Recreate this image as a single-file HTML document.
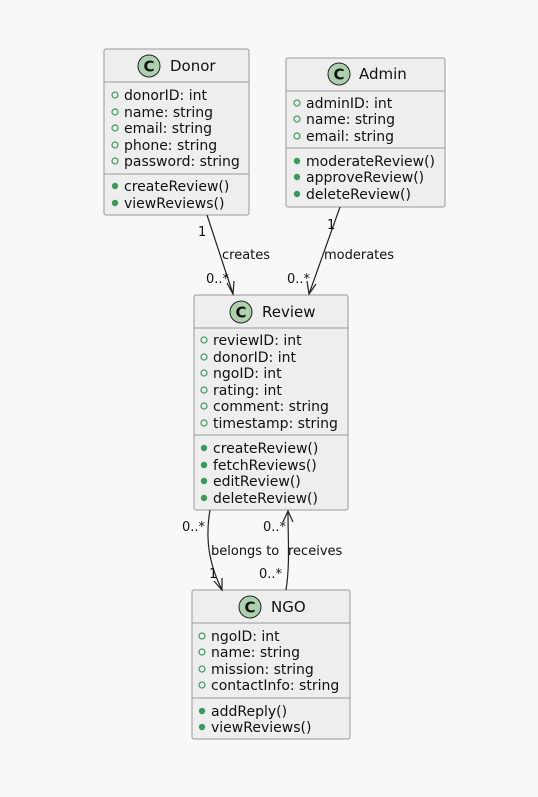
<!DOCTYPE html>
<html><head><meta charset="utf-8"><style>
html,body{margin:0;padding:0;background:#f8f8f8;}
svg{display:block}
text{font-family:"DejaVu Sans","Liberation Sans",sans-serif;fill:#111;}
.a{font-size:14px}
.t{font-size:15px}
.l{font-size:13px}
</style></head><body>
<svg width="538" height="797" viewBox="0 0 538 797" xmlns="http://www.w3.org/2000/svg">
<defs>
<g id="ico"><circle r="11" fill="#ADD1AE" stroke="#222" stroke-width="1"/><text x="0" y="5.5" text-anchor="middle" style="font-size:15px;font-weight:bold">C</text></g>
<g id="po"><circle r="3" fill="none" stroke="#3a9a5a" stroke-width="1.2"/></g>
<g id="pf"><circle r="3.2" fill="#3a9a5a"/></g>
</defs>

<!-- Donor -->
<rect x="104" y="49" width="145" height="166" rx="2" fill="#eeeeee" stroke="#999" stroke-width="1"/>
<line x1="104" y1="82" x2="249" y2="82" stroke="#999"/>
<line x1="104" y1="174" x2="249" y2="174" stroke="#999"/>
<use href="#ico" x="149" y="66"/>
<text class="t" x="170" y="71">Donor</text>
<use href="#po" x="115" y="95"/><text class="a" x="124" y="100">donorID: int</text>
<use href="#po" x="115" y="112"/><text class="a" x="124" y="117">name: string</text>
<use href="#po" x="115" y="128"/><text class="a" x="124" y="133">email: string</text>
<use href="#po" x="115" y="145"/><text class="a" x="124" y="150">phone: string</text>
<use href="#po" x="115" y="161"/><text class="a" x="124" y="166">password: string</text>
<use href="#pf" x="115" y="186"/><text class="a" x="124" y="191">createReview()</text>
<use href="#pf" x="115" y="203"/><text class="a" x="124" y="208">viewReviews()</text>

<!-- Admin -->
<rect x="286" y="58" width="159" height="149" rx="2" fill="#eeeeee" stroke="#999" stroke-width="1"/>
<line x1="286" y1="91" x2="445" y2="91" stroke="#999"/>
<line x1="286" y1="148" x2="445" y2="148" stroke="#999"/>
<use href="#ico" x="339" y="74"/>
<text class="t" x="359" y="79">Admin</text>
<use href="#po" x="297" y="103"/><text class="a" x="306" y="108">adminID: int</text>
<use href="#po" x="297" y="119"/><text class="a" x="306" y="124">name: string</text>
<use href="#po" x="297" y="136"/><text class="a" x="306" y="141">email: string</text>
<use href="#pf" x="297" y="161"/><text class="a" x="306" y="166">moderateReview()</text>
<use href="#pf" x="297" y="177"/><text class="a" x="306" y="182">approveReview()</text>
<use href="#pf" x="297" y="194"/><text class="a" x="306" y="199">deleteReview()</text>

<!-- Review -->
<rect x="194" y="295" width="154" height="215" rx="2" fill="#eeeeee" stroke="#999" stroke-width="1"/>
<line x1="194" y1="328" x2="348" y2="328" stroke="#999"/>
<line x1="194" y1="435" x2="348" y2="435" stroke="#999"/>
<use href="#ico" x="241" y="312"/>
<text class="t" x="262" y="317">Review</text>
<use href="#po" x="204" y="340"/><text class="a" x="213" y="345">reviewID: int</text>
<use href="#po" x="204" y="357"/><text class="a" x="213" y="362">donorID: int</text>
<use href="#po" x="204" y="373"/><text class="a" x="213" y="378">ngoID: int</text>
<use href="#po" x="204" y="390"/><text class="a" x="213" y="395">rating: int</text>
<use href="#po" x="204" y="406"/><text class="a" x="213" y="411">comment: string</text>
<use href="#po" x="204" y="423"/><text class="a" x="213" y="428">timestamp: string</text>
<use href="#pf" x="204" y="448"/><text class="a" x="213" y="453">createReview()</text>
<use href="#pf" x="204" y="465"/><text class="a" x="213" y="470">fetchReviews()</text>
<use href="#pf" x="204" y="481"/><text class="a" x="213" y="486">editReview()</text>
<use href="#pf" x="204" y="498"/><text class="a" x="213" y="503">deleteReview()</text>

<!-- NGO -->
<rect x="192" y="590" width="158" height="149" rx="2" fill="#eeeeee" stroke="#999" stroke-width="1"/>
<line x1="192" y1="623" x2="350" y2="623" stroke="#999"/>
<line x1="192" y1="698" x2="350" y2="698" stroke="#999"/>
<use href="#ico" x="250" y="607"/>
<text class="t" x="271" y="612">NGO</text>
<use href="#po" x="202" y="636"/><text class="a" x="211" y="641">ngoID: int</text>
<use href="#po" x="202" y="652"/><text class="a" x="211" y="657">name: string</text>
<use href="#po" x="202" y="669"/><text class="a" x="211" y="674">mission: string</text>
<use href="#po" x="202" y="685"/><text class="a" x="211" y="690">contactInfo: string</text>
<use href="#pf" x="202" y="711"/><text class="a" x="211" y="716">addReply()</text>
<use href="#pf" x="202" y="727"/><text class="a" x="211" y="732">viewReviews()</text>

<!-- edges -->
<g stroke="#222" stroke-width="1.2" fill="none">
<line x1="207" y1="215" x2="233" y2="294"/>
<polyline points="227,283 233,294 234,281"/>
<line x1="340" y1="207" x2="309" y2="294"/>
<polyline points="307,281 309,294 316,284"/>
<path d="M210,510 C204,545 212,570 222,590"/>
<polyline points="214,581 222,590 222,578"/>
<path d="M286,590 C290,565 288,540 288,511"/>
<polyline points="283,522 288,511 293,522"/>
</g>
<text class="l" x="198" y="236">1</text>
<text class="l" x="222" y="259">creates</text>
<text class="l" x="206" y="283">0..*</text>
<text class="l" x="327" y="229">1</text>
<text class="l" x="324" y="259">moderates</text>
<text class="l" x="287" y="283">0..*</text>
<text class="l" x="182" y="531">0..*</text>
<text class="l" x="211" y="555">belongs to</text>
<text class="l" x="209" y="578">1</text>
<text class="l" x="263" y="531">0..*</text>
<text class="l" x="288" y="555">receives</text>
<text class="l" x="259" y="578">0..*</text>
</svg>
</body></html>
